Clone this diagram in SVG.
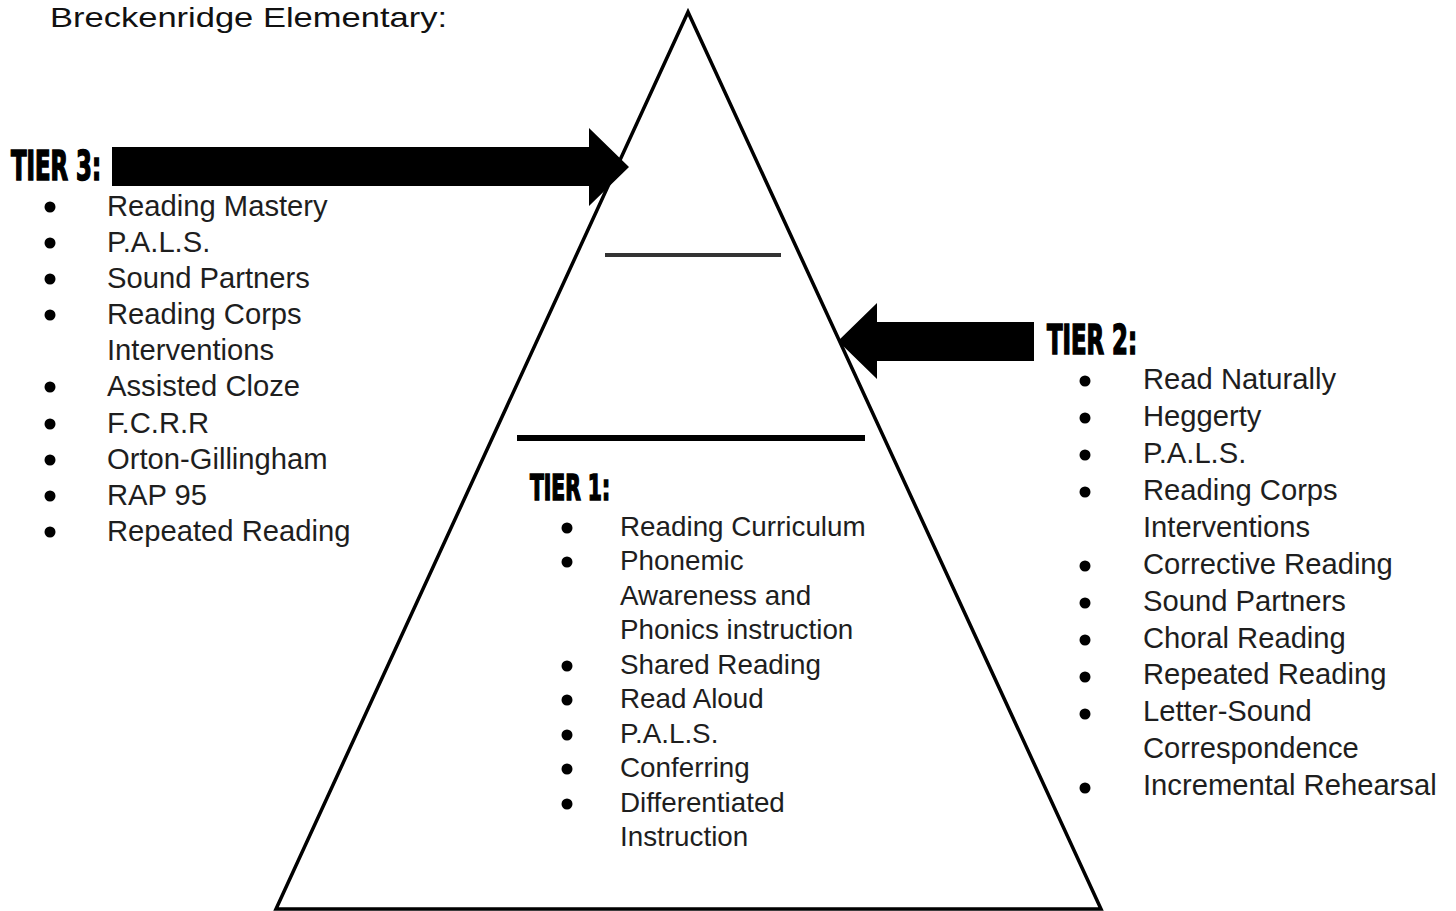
<svg xmlns="http://www.w3.org/2000/svg" width="1456" height="911" viewBox="0 0 1456 911">
  <style>
    .item { font-family: "Liberation Sans", Arial, sans-serif; font-size: 29.2px; fill: #1e1e1e; }
    .item1 { font-family: "Liberation Sans", Arial, sans-serif; font-size: 27.8px; fill: #1e1e1e; }
    .tier { font-family: "Liberation Sans Narrow", "DejaVu Sans Condensed", "Liberation Sans", sans-serif; font-weight: bold; fill: #000; stroke: #000; stroke-width: 1.6px; }
    .title { font-family: "Liberation Sans", "DejaVu Sans", sans-serif; font-size: 28px; fill: #111; }
    .bullet { fill: #000; }
  </style>
  <rect width="1456" height="911" fill="#fff"/>
  <text class="title" x="50" y="27" textLength="397" lengthAdjust="spacingAndGlyphs">Breckenridge Elementary:</text>

  <g id="pyramid">
    <polygon points="688,12 276,909 1101,909" fill="none" stroke="#000" stroke-width="3.5" stroke-linejoin="miter"/>
    <line x1="605" y1="255" x2="781" y2="255" stroke="#333" stroke-width="4"/>
    <line x1="517" y1="438" x2="865" y2="438" stroke="#000" stroke-width="6"/>
  </g>

  <g id="connectors">
    <polygon id="arrow-tier3" points="112,147 589,147 589,128 629,167 589,206 589,186 112,186" fill="#000"/>
    <polygon id="arrow-tier2" points="1034,322 877,322 877,303 838,341 877,379 877,361 1034,361" fill="#000"/>
  </g>

  <g id="tier3">
    <text class="tier" x="11" y="180" font-size="40" textLength="90" lengthAdjust="spacingAndGlyphs">TIER 3:</text>
    <g class="bullets">
      <circle class="bullet" cx="50" cy="207" r="5.5"/>
      <circle class="bullet" cx="50" cy="243" r="5.5"/>
      <circle class="bullet" cx="50" cy="279" r="5.5"/>
      <circle class="bullet" cx="50" cy="315" r="5.5"/>
      <circle class="bullet" cx="50" cy="387" r="5.5"/>
      <circle class="bullet" cx="50" cy="424" r="5.5"/>
      <circle class="bullet" cx="50" cy="460" r="5.5"/>
      <circle class="bullet" cx="50" cy="496" r="5.5"/>
      <circle class="bullet" cx="50" cy="532" r="5.5"/>
    </g>
    <text class="item" x="107" y="216">Reading Mastery</text>
    <text class="item" x="107" y="252">P.A.L.S.</text>
    <text class="item" x="107" y="288">Sound Partners</text>
    <text class="item" x="107" y="324">Reading Corps</text>
    <text class="item" x="107" y="360">Interventions</text>
    <text class="item" x="107" y="396">Assisted Cloze</text>
    <text class="item" x="107" y="433">F.C.R.R</text>
    <text class="item" x="107" y="469">Orton-Gillingham</text>
    <text class="item" x="107" y="505">RAP 95</text>
    <text class="item" x="107" y="541">Repeated Reading</text>
  </g>

  <g id="tier2">
    <text class="tier" x="1047" y="354" font-size="40" textLength="90" lengthAdjust="spacingAndGlyphs">TIER 2:</text>
    <g class="bullets">
      <circle class="bullet" cx="1085" cy="381" r="5.5"/>
      <circle class="bullet" cx="1085" cy="418" r="5.5"/>
      <circle class="bullet" cx="1085" cy="455" r="5.5"/>
      <circle class="bullet" cx="1085" cy="492" r="5.5"/>
      <circle class="bullet" cx="1085" cy="566" r="5.5"/>
      <circle class="bullet" cx="1085" cy="603" r="5.5"/>
      <circle class="bullet" cx="1085" cy="640" r="5.5"/>
      <circle class="bullet" cx="1085" cy="677" r="5.5"/>
      <circle class="bullet" cx="1085" cy="714" r="5.5"/>
      <circle class="bullet" cx="1085" cy="788" r="5.5"/>
    </g>
    <text class="item" x="1143" y="389">Read Naturally</text>
    <text class="item" x="1143" y="426">Heggerty</text>
    <text class="item" x="1143" y="463">P.A.L.S.</text>
    <text class="item" x="1143" y="500">Reading Corps</text>
    <text class="item" x="1143" y="537">Interventions</text>
    <text class="item" x="1143" y="574">Corrective Reading</text>
    <text class="item" x="1143" y="611">Sound Partners</text>
    <text class="item" x="1143" y="648">Choral Reading</text>
    <text class="item" x="1143" y="684">Repeated Reading</text>
    <text class="item" x="1143" y="721">Letter-Sound</text>
    <text class="item" x="1143" y="758">Correspondence</text>
    <text class="item" x="1143" y="795">Incremental Rehearsal</text>
  </g>

  <g id="tier1">
    <text class="tier" x="530" y="500" font-size="35" textLength="80" lengthAdjust="spacingAndGlyphs">TIER 1:</text>
    <g class="bullets">
      <circle class="bullet" cx="567" cy="528" r="5.5"/>
      <circle class="bullet" cx="567" cy="562" r="5.5"/>
      <circle class="bullet" cx="567" cy="666" r="5.5"/>
      <circle class="bullet" cx="567" cy="700" r="5.5"/>
      <circle class="bullet" cx="567" cy="735" r="5.5"/>
      <circle class="bullet" cx="567" cy="769" r="5.5"/>
      <circle class="bullet" cx="567" cy="804" r="5.5"/>
    </g>
    <text class="item1" x="620" y="536">Reading Curriculum</text>
    <text class="item1" x="620" y="570">Phonemic</text>
    <text class="item1" x="620" y="605">Awareness and</text>
    <text class="item1" x="620" y="639">Phonics instruction</text>
    <text class="item1" x="620" y="674">Shared Reading</text>
    <text class="item1" x="620" y="708">Read Aloud</text>
    <text class="item1" x="620" y="743">P.A.L.S.</text>
    <text class="item1" x="620" y="777">Conferring</text>
    <text class="item1" x="620" y="812">Differentiated</text>
    <text class="item1" x="620" y="846">Instruction</text>
  </g>
</svg>
